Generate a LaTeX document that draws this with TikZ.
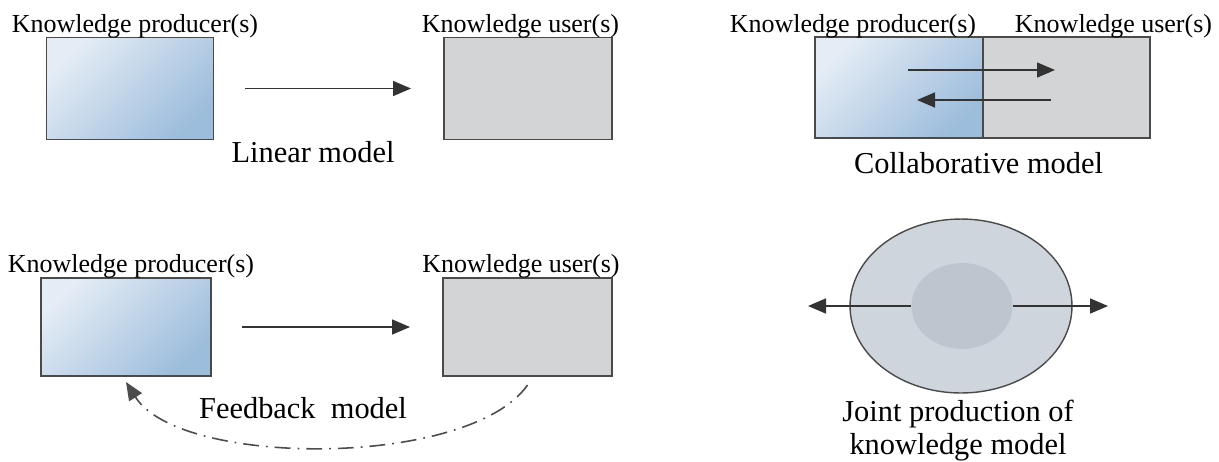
\documentclass[tikz,border=0pt]{standalone}
\usepackage{fontspec}
\setmainfont{Liberation Serif}
\usetikzlibrary{shapes.geometric, arrows.meta}

\definecolor{prodlight}{HTML}{E4ECF5}
\definecolor{proddark}{HTML}{9DBDDC}
\definecolor{usergray}{HTML}{D2D4D6}
\definecolor{edgegray}{HTML}{4A4A4A}
\definecolor{outerfill}{HTML}{CFD5DC}
\definecolor{innerfill}{HTML}{BDC6CF}

\tikzset{
    prodbox/.style={draw=edgegray, line width=1pt, top color=prodlight,
        bottom color=proddark, shading angle=45, inner sep=0pt, outer sep=0pt},
    userbox/.style={draw=edgegray, line width=1pt, fill=usergray,
        inner sep=0pt, outer sep=0pt},
    lbl/.style={font=\fontsize{14.8}{16}\selectfont, anchor=base, inner sep=0pt},
    ttl/.style={font=\fontsize{17.3}{18.6}\selectfont, anchor=base, inner sep=0pt},
    arr/.style={draw=black!80, line width=0.9pt,
        -{Triangle[length=3.6mm, width=3mm]}},
}

\begin{document}
\begin{tikzpicture}[x=0.02cm, y=-0.02cm]
    \useasboundingbox (0,0) rectangle (1219,461);

    % 1. Linearis modell
    \node[prodbox, minimum width=3.34cm, minimum height=2.04cm] (lprod) at (130,88.5) {};
    \node[userbox, minimum width=3.36cm, minimum height=2.04cm] (luser) at (528,88.5) {};
    \node[lbl] (lprodlbl) at (135,32) {Knowledge producer(s)};
    \node[lbl] (luserlbl) at (520.5,32) {Knowledge user(s)};
    \draw[arr, shorten <=0.64cm, shorten >=0.66cm] (lprod) -- (luser);
    \node[ttl] (ltitle) at (313,162) {Linear model};

    % 2. Egyuttmukodesi modell
    \node[prodbox, minimum width=3.36cm, minimum height=2.02cm] (cprod) at (899,87.5) {};
    \node[userbox, minimum width=3.34cm, minimum height=2.02cm, anchor=west] (cuser) at (cprod.east) {};
    \node[lbl] (cprodlbl) at (853,32) {Knowledge producer(s)};
    \node[lbl] (cuserlbl) at (1113.5,32) {Knowledge user(s)};
    \coordinate (ca1) at (908,70);
    \coordinate (ca2) at (1055,70);
    \coordinate (cb1) at (1051,100);
    \coordinate (cb2) at (917,100);
    \draw[arr] (ca1) -- (ca2);
    \draw[arr] (cb1) -- (cb2);
    \node[ttl] (ctitle) at (978.5,173) {Collaborative model};

    % 3. Visszacsatolasos modell
    \node[prodbox, minimum width=3.40cm, minimum height=1.96cm] (fprod) at (126,327) {};
    \node[userbox, minimum width=3.38cm, minimum height=1.96cm] (fuser) at (527.5,327) {};
    \node[lbl] (fprodlbl) at (131,272) {Knowledge producer(s)};
    \node[lbl] (fuserlbl) at (521,272) {Knowledge user(s)};
    \draw[arr, shorten <=0.62cm, shorten >=0.66cm] (fprod) -- (fuser);
    \draw[arr, draw=black!70, dash pattern=on 9pt off 4pt on 1pt off 4pt]
        ([yshift=-0.18cm]fuser.south) .. controls (470,468) and (180,468) .. ([yshift=-0.12cm]fprod.south);
    \node[ttl] (ftitle) at (303,418) {Feedback\ \ model};

    % 4. Kozos tudastermelesi modell
    \node[ellipse, draw=edgegray, line width=0.8pt, fill=outerfill,
        minimum width=4.44cm, minimum height=3.48cm, inner sep=0pt] (jout) at (961,306) {};
    \node[ellipse, fill=innerfill, minimum width=2.02cm, minimum height=1.72cm,
        inner sep=0pt] (jin) at (962,306) {};
    \coordinate (jl) at (808,306);
    \coordinate (jr) at (1108,306);
    \draw[arr] (jin.west) -- (jl);
    \draw[arr] (jin.east) -- (jr);
    \node[ttl, anchor=north, align=center] (jtitle) at (958,400)
        {Joint production of\\knowledge model};
\end{tikzpicture}
\end{document}
